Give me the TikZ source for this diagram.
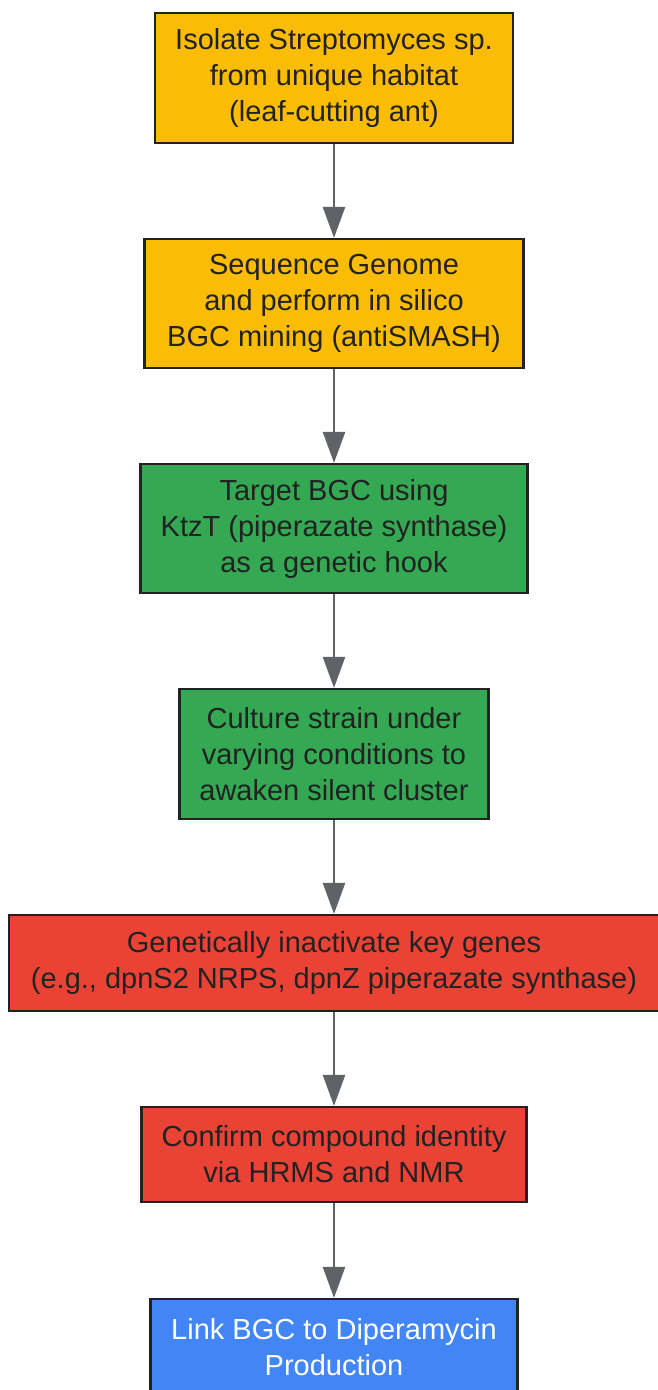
\documentclass[tikz,border=0pt]{standalone}
\usepackage{fontspec}
\setmainfont{Liberation Sans}
\usepackage{tikz}
\usetikzlibrary{arrows.meta}

\definecolor{stepyellow}{HTML}{FBBC05}
\definecolor{stepgreen}{HTML}{34A853}
\definecolor{stepred}{HTML}{EA4335}
\definecolor{stepblue}{HTML}{4285F4}
\definecolor{linkgray}{HTML}{5F6368}
\definecolor{textdark}{HTML}{222222}

\begin{document}
\begin{tikzpicture}[x=1pt,y=-1pt,
	stepbox/.style={draw=textdark, line width=2.2pt, align=center, inner sep=0pt,
		font=\fontsize{29}{36}\selectfont, text=textdark},
	flow/.style={draw=linkgray, line width=2.5pt, -{Triangle[length=31pt,width=22pt]}}]

	\useasboundingbox (0,0) rectangle (657,1390);

	\node[stepbox, fill=stepyellow, minimum width=358pt, minimum height=130pt] (isolate) at (334,78)
		{Isolate Streptomyces sp.\\from unique habitat\\(leaf-cutting ant)};
	\node[stepbox, fill=stepyellow, minimum width=379pt, minimum height=129pt] (sequence) at (334,303.5)
		{Sequence Genome\\and perform in silico\\BGC mining (antiSMASH)};
	\node[stepbox, fill=stepgreen, minimum width=387pt, minimum height=129pt] (target) at (334,528.5)
		{Target BGC using\\KtzT (piperazate synthase)\\as a genetic hook};
	\node[stepbox, fill=stepgreen, minimum width=309pt, minimum height=130pt] (culture) at (334,754)
		{Culture strain under\\varying conditions to\\awaken silent cluster};
	\node[stepbox, fill=stepred, minimum width=650pt, minimum height=96pt] (inactivate) at (334,963)
		{Genetically inactivate key genes\\(e.g., dpnS2 NRPS, dpnZ piperazate synthase)};
	\node[stepbox, fill=stepred, minimum width=385pt, minimum height=95pt] (confirm) at (334,1154.5)
		{Confirm compound identity\\via HRMS and NMR};
	\node[stepbox, fill=stepblue, text=white, minimum width=367pt, minimum height=96pt] (link) at (334,1347)
		{Link BGC to Diperamycin\\Production};

	\draw[flow] (isolate) -- (sequence);
	\draw[flow] (sequence) -- (target);
	\draw[flow] (target) -- (culture);
	\draw[flow] (culture) -- (inactivate);
	\draw[flow] (inactivate) -- (confirm);
	\draw[flow] (confirm) -- (link);

\end{tikzpicture}
\end{document}
